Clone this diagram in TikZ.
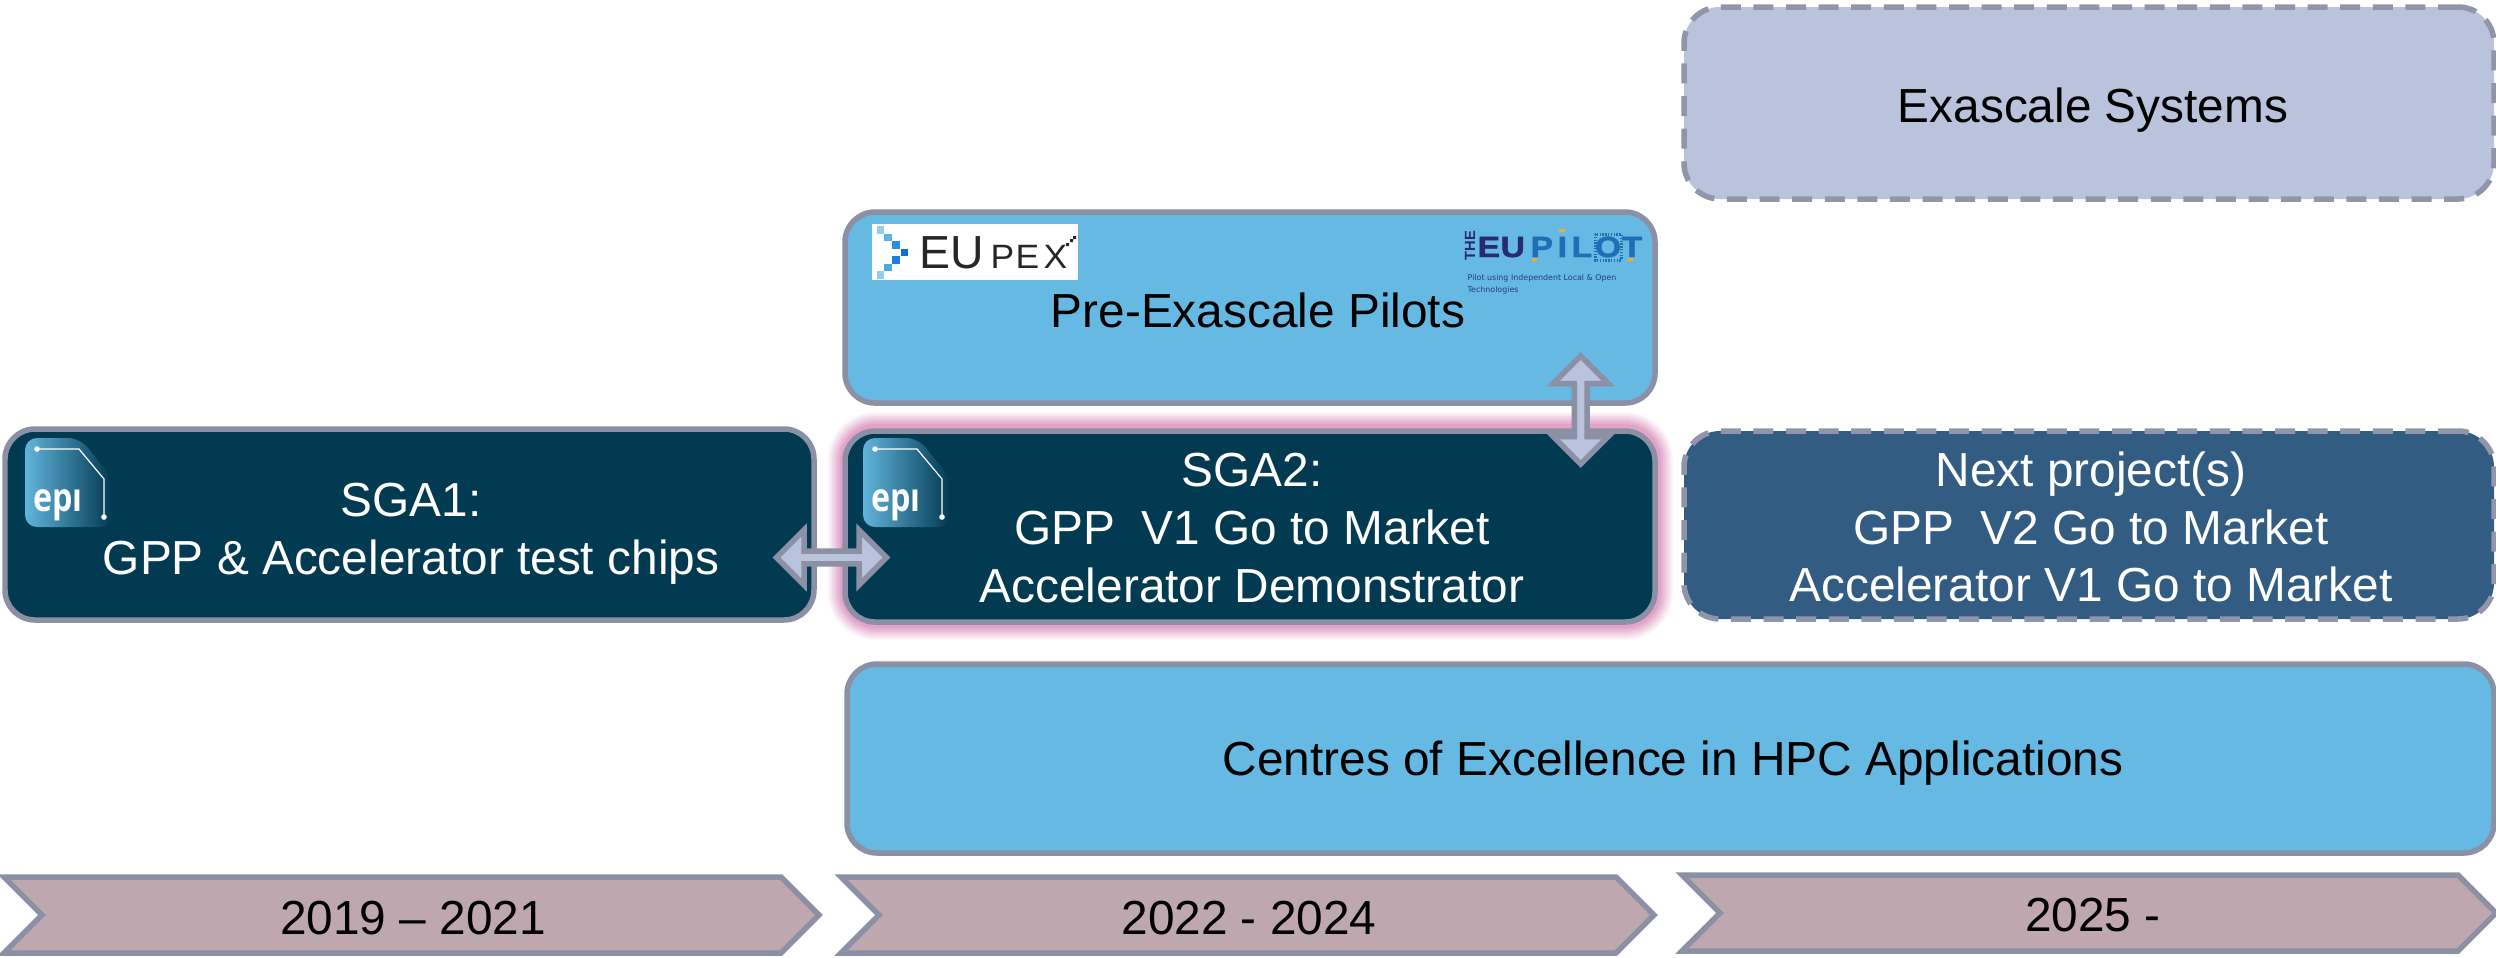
\documentclass[tikz,border=0pt]{standalone}
\usepackage{fontspec}
\setmainfont{Liberation Sans}
\newfontfamily\logofont{Open Sans}
\newfontfamily\tinyfont{DejaVu Sans}
\newfontfamily\pilotfont[BoldFont={Liberation Sans Bold},BoldFeatures={FakeBold=1.6,FakeStretch=1.15}]{Liberation Sans}
\usetikzlibrary{shapes.arrows,calc}
\definecolor{edgegrey}{HTML}{8B90A5}
\definecolor{dashgrey}{HTML}{9195AA}
\definecolor{darkbox}{HTML}{023A52}
\definecolor{midbox}{HTML}{325C82}
\definecolor{skybox}{HTML}{65B9E3}
\definecolor{palebox}{HTML}{BAC3DC}
\definecolor{yearfill}{HTML}{BEA7AF}
\definecolor{glowpink}{HTML}{DB8FBE}
\definecolor{logolight}{HTML}{62B4DC}
\definecolor{logomid}{HTML}{1F5F7E}
\definecolor{pilotnavy}{HTML}{2A2A6E}
\definecolor{pilotblue}{HTML}{1E6FB4}
\definecolor{pilotorange}{HTML}{F5A92B}
\definecolor{pilotsubtext}{HTML}{24406F}
\tikzset{
  bigtext/.style={font=\fontsize{13.6pt}{16.4pt}\selectfont},
  boxbase/.style={rectangle,rounded corners=0.30cm,line width=0.055cm,inner sep=0pt,align=center,bigtext},
  solidbox/.style={boxbase,draw=edgegrey},
  dashbox/.style={boxbase,draw=dashgrey,dash pattern=on 0.2cm off 0.126cm,rounded corners=0.36cm},
  boxtext/.style={bigtext,inner sep=0pt,align=center},
  yearshape/.style={draw=edgegrey,fill=yearfill,line width=0.055cm,line join=miter},
  yeartext/.style={bigtext,text=black,inner sep=0pt},
  linkarrow/.style={double arrow,draw=edgegrey,fill=palebox,line width=0.055cm,inner sep=0pt,
    double arrow head extend=0.09cm,minimum width=0.55cm,double arrow head indent=0pt},
  pilotletter/.style={inner sep=0pt,anchor=base west,font=\pilotfont\bfseries\fontsize{8.3pt}{9pt}\selectfont},
  pexletter/.style={inner sep=0pt,anchor=base west,text=black!85,xscale=1.05,transform shape,font=\fontsize{9.6pt}{10pt}\selectfont},
}
\newcommand{\epilogo}[2]{%
  \begin{scope}[shift={(#1,0)}]
    \path[left color=logolight,middle color=logomid,right color=darkbox,rounded corners=0.12cm]
      (0.25,4.38) -- (0.80,4.38) -- (1.12,4.78) -- (1.12,5.27) -- (0.25,5.27) -- cycle;
    \draw[white,line width=0.012cm] (0.37,4.49) -- (0.79,4.49) -- (1.04,4.79) -- (1.04,5.17);
    \fill[white] (0.37,4.49) circle (0.028) (1.04,5.17) circle (0.028);
    \node[text=white,inner sep=0pt,anchor=base,xscale=0.82,transform shape,font=\logofont\bfseries\fontsize{11.2pt}{12pt}\selectfont] (#2) at (0.58,5.11) {epı};
  \end{scope}}
\begin{document}
\begin{tikzpicture}[x=1cm,y=-1cm]
\useasboundingbox (0,0) rectangle (24.96,9.57);
% glow
\foreach \w/\o in {0.36/0.10,0.32/0.12,0.28/0.15,0.24/0.18,0.20/0.24,0.16/0.30,0.12/0.4}
  \draw[glowpink,line width=\w cm,opacity=\o,rounded corners=0.30cm] (8.46,4.30) rectangle (16.55,6.22);
% boxes
\node[dashbox,fill=palebox,minimum width=8.10cm,minimum height=1.92cm] (exa) at (20.89,1.03) {};
\node[boxtext] (exatext) at (20.93,1.10) {Exascale Systems};
\node[solidbox,fill=skybox,minimum width=8.10cm,minimum height=1.91cm] (pre) at (12.50,3.075) {};
\node[boxtext] (pretext) at (12.58,3.10) {Pre-Exascale Pilots};
\node[solidbox,fill=darkbox,minimum width=8.09cm,minimum height=1.91cm] (sga1) at (4.095,5.245) {};
\node[boxtext,text=white] (sga1text) at (4.11,5.34) {SGA1:\\GPP \& Accelerator test chips};
\node[solidbox,fill=darkbox,minimum width=8.10cm,minimum height=1.91cm] (sga2) at (12.50,5.265) {};
\node[boxtext,text=white] (sga2text) at (12.52,5.28) {SGA2:\\GPP\ \ V1 Go to Market\\Accelerator Demonstrator};
\node[dashbox,fill=midbox,minimum width=8.10cm,minimum height=1.88cm] (next) at (20.89,5.25) {};
\node[boxtext,text=white] (nexttext) at (20.91,5.27) {Next project(s)\\GPP\ \ V2 Go to Market\\Accelerator V1 Go to Market};
\node[solidbox,fill=skybox,minimum width=16.47cm,minimum height=1.89cm] (coe) at (16.705,7.585) {};
\node[boxtext] (coetext) at (16.73,7.63) {Centres of Excellence in HPC Applications};
% logos
\epilogo{0}{epia}
\epilogo{8.38}{epib}
% EUPEX
\fill[white] (8.72,2.24) rectangle (10.78,2.80);
\foreach \x/\y/\c in {8.767/2.263/8FD0EA,8.843/2.337/5AB4E6,8.923/2.413/2A8FE0,9.007/2.487/0D6FDC,8.923/2.563/1A7FE0,8.843/2.637/4BA8E0,8.767/2.713/8FD0EA}{
  \definecolor{px}{HTML}{\c}\fill[px] (\x,\y) rectangle ++(0.075,0.075);}
\node[inner sep=0pt,anchor=base west,text=black!85,font=\fontsize{13.2pt}{14pt}\selectfont] (eupexa) at (9.19,2.68) {EU};
\node[pexletter] (pexp) at (9.90,2.68) {P};
\node[pexletter] (pexe) at (10.15,2.68) {E};
\node[pexletter] (pexx) at (10.43,2.68) {X};
\fill[black!85] (10.66,2.43) rectangle ++(0.03,0.03) (10.70,2.39) rectangle ++(0.03,0.03) (10.73,2.36) rectangle ++(0.03,0.03);
% EUPILOT
\node[inner sep=0pt,rotate=90,text=pilotnavy,font=\bfseries\fontsize{4.2pt}{5pt}\selectfont] (pilotthe) at (14.70,2.455) {THE};
\node[pilotletter,text=pilotnavy] (pe) at (14.77,2.57) {E};
\node[pilotletter,text=pilotnavy] (pu) at (15.00,2.57) {U};
\node[pilotletter,text=pilotblue] (pp) at (15.30,2.57) {P};
\node[pilotletter,text=pilotblue] (pi) at (15.57,2.57) {I};
\node[pilotletter,text=pilotblue] (pl) at (15.71,2.57) {L};
\node[inner sep=0pt,text=pilotblue,font=\pilotfont\bfseries\fontsize{8.3pt}{9pt}\selectfont,anchor=base] (po) at (16.08,2.57) {O};
\node[pilotletter,text=pilotblue] (pt) at (16.21,2.57) {T};
\draw[pilotblue,line width=0.03cm,dash pattern=on 0.014cm off 0.014cm] (15.95,2.34) rectangle (16.21,2.60);
\fill[pilotorange] (15.32,2.58) rectangle (15.37,2.61) (15.59,2.29) rectangle (15.65,2.32) (16.28,2.58) rectangle (16.33,2.61);
\node[inner sep=0pt,anchor=north west,align=left,text=pilotsubtext,font=\tinyfont\fontsize{2.25pt}{3.4pt}\selectfont] (pilotsub) at (14.67,2.74) {Pilot using Independent Local \& Open\\Technologies};
% arrows
\node[linkarrow,minimum height=1.10cm] (hlink) at ($(sga1.east)!0.5!(sga2.west)+(0.02,0.32)$) {};
\node[linkarrow,rotate=90,minimum height=1.08cm] (vlink) at ($(pre.south east)!0.5!(sga2.north east)+(-0.77,-0.07)$) {};
% years
\draw[yearshape] (0.04,8.77) -- (7.81,8.77) -- (8.19,9.15) -- (7.81,9.53) -- (0.04,9.53) -- (0.42,9.15) -- cycle;
\draw[yearshape] (8.41,8.77) -- (16.16,8.77) -- (16.54,9.15) -- (16.16,9.53) -- (8.41,9.53) -- (8.79,9.15) -- cycle;
\draw[yearshape] (16.82,8.75) -- (24.58,8.75) -- (24.96,9.13) -- (24.58,9.51) -- (16.82,9.51) -- (17.20,9.13) -- cycle;
\node[yeartext] (y1) at (4.13,9.18) {2019 – 2021};
\node[yeartext] (y2) at (12.49,9.18) {2022 - 2024};
\node[yeartext] (y3) at (20.93,9.15) {2025 -};
\end{tikzpicture}
\end{document}
